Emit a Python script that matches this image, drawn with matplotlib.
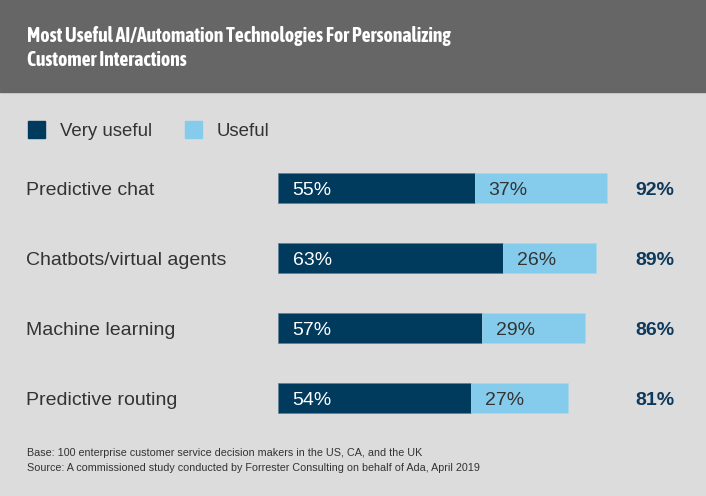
import matplotlib
matplotlib.use("Agg")
import matplotlib.pyplot as plt
from matplotlib.patches import Rectangle
from matplotlib import font_manager

categories = ["Predictive chat", "Chatbots/virtual agents", "Machine learning", "Predictive routing"]
very_useful = [55, 63, 57, 54]
useful = [37, 26, 29, 27]
totals = [92, 89, 86, 81]
series_names = ["Very useful", "Useful"]
title_lines = ["Most Useful AI/Automation Technologies For Personalizing", "Customer Interactions"]
notes = ["Base: 100 enterprise customer service decision makers in the US, CA, and the UK",
         "Source: A commissioned study conducted by Forrester Consulting on behalf of Ada, April 2019"]

bold_names = set()
for f in font_manager.fontManager.ttflist:
    wgt = f.weight if isinstance(f.weight, int) else font_manager.weight_dict.get(f.weight, 400)
    if wgt >= 600 and f.style == "normal":
        bold_names.add(f.name)
FONT = ["Liberation Sans", "DejaVu Sans"]

DARK = "#003a5d"
LIGHT = "#85ccec"
BG = "#dcdcdc"
BANNER = "#666666"
TXT = "#333333"

W, H = 706, 496
fig = plt.figure(figsize=(W / 100, H / 100), dpi=100, facecolor=BG)
renderer = fig.canvas.get_renderer()

def px(x, y):
    return x / W, 1 - y / H

# choose a condensed bold font whose width at 14pt is closest to the reference (~425 px)
candidates = ["Nimbus Sans Narrow", "Liberation Sans Narrow", "Arial Narrow", "Archivo Narrow",
              "Roboto Condensed", "PT Sans Narrow", "Encode Sans Condensed", "IBM Plex Sans Condensed",
              "Fira Sans Condensed", "Asap Condensed", "Barlow Semi Condensed", "Pragati Narrow"]
best, best_err = "Liberation Sans", 1e9
for cand in candidates:
    if cand not in bold_names:
        continue
    tt = fig.text(0, 0, title_lines[0], fontsize=14, fontweight="bold", family=cand)
    wd = tt.get_window_extent(renderer).width
    tt.remove()
    if abs(wd - 425) < best_err:
        best, best_err = cand, abs(wd - 425)
title_font = best

# banner
fig.patches.append(Rectangle((0, 1 - 92 / H), 1, 92 / H, transform=fig.transFigure, color=BANNER, zorder=0))
t1 = fig.text(*px(27, 42), title_lines[0], color="white", fontsize=14, fontweight="bold",
              family=[title_font, "DejaVu Sans"], va="baseline", ha="left")
t2 = fig.text(*px(27, 66.5), title_lines[1], color="white", fontsize=14, fontweight="bold",
              family=[title_font, "DejaVu Sans"], va="baseline", ha="left")
w = t1.get_window_extent(renderer).width
fsz = max(11, min(15, 14 * 425 / w))
t1.set_fontsize(fsz)
t2.set_fontsize(fsz)

# legend
for (x0, col, lab, tx) in [(28, DARK, series_names[0], 60), (185, LIGHT, series_names[1], 217)]:
    fig.patches.append(Rectangle(px(x0, 138), 17 / W, 17 / H, transform=fig.transFigure, color=col))
    fig.text(*px(tx, 136), lab, color=TXT, fontsize=13.4, family=FONT, va="baseline", ha="left")

# bars axes
ax = fig.add_axes([278 / W, 1 - 433 / H, 357.5 / W, 280 / H])
ax.set_facecolor("none")
ax.set_xlim(0, 100)
ax.set_ylim(3.5, -0.5)
ax.axis("off")
y = list(range(len(categories)))
ax.barh(y, very_useful, height=0.42, color=DARK, edgecolor="#5d7f96", linewidth=0.5)
ax.barh(y, useful, left=very_useful, height=0.42, color=LIGHT, edgecolor="#a8d8ee", linewidth=0.5)
for i in y:
    ax.text(4.1, i + 0.1, f"{very_useful[i]}%", color="white", fontsize=14, family=FONT,
            va="baseline", ha="left")
    ax.text(very_useful[i] + 3.9, i + 0.1, f"{useful[i]}%", color=TXT, fontsize=14, family=FONT,
            va="baseline", ha="left")
    ax.text(100.1, i + 0.1, f"{totals[i]}%", color="#0d3a5c", fontsize=14, fontweight="bold", family=FONT,
            va="baseline", ha="left", clip_on=False)
    ax.text(-70.5, i + 0.1, categories[i], color=TXT, fontsize=14, family=FONT,
            va="baseline", ha="left", clip_on=False)

for k, line in enumerate(notes):
    fig.text(*px(27, 456.5 + 14.5 * k), line, color=TXT, fontsize=7.75, family=FONT,
             va="baseline", ha="left")

fig.savefig("out.png", dpi=100, facecolor=BG)
